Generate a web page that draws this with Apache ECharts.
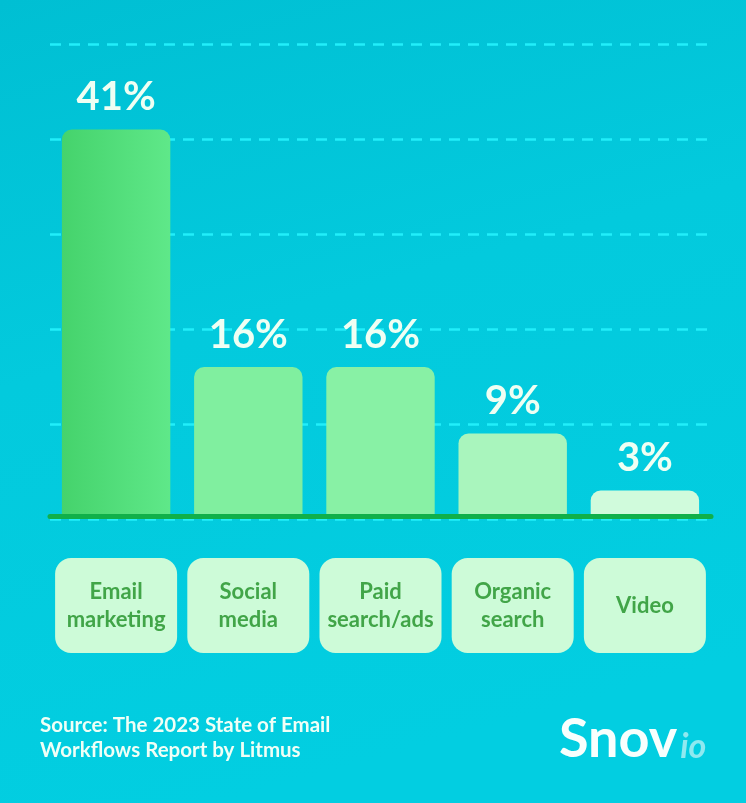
<!DOCTYPE html>
<html>
<head>
<meta charset="utf-8">
<script src="https://cdn.jsdelivr.net/npm/echarts@6/dist/echarts.min.js"></script>
<style>
html,body{margin:0;padding:0;background:#02c8db;}
#chart{width:746px;height:803px;}
</style>
</head>
<body>
<div id="chart"></div>
<script>
const categories = ['Email\nmarketing', 'Social\nmedia', 'Paid\nsearch/ads', 'Organic\nsearch', 'Video'];
const values = [41, 16, 16, 9, 3];
const barColors = ['#55e07d', '#80ef9f', '#88f1a5', '#a9f5bd', '#d0fbdc'];
const yTicks = [0, 10, 20, 30, 40, 50];
const sourceLines = ['Source: The 2023 State of Email', 'Workflows Report by Litmus'];

const FONT = 'Lato, "Open Sans", sans-serif';
const BOX_H = 95, LINE_H = 28;

const chart = echarts.init(document.getElementById('chart'));
chart.setOption({
  backgroundColor: {
    type: 'linear', x: 0, y: 0, x2: 0.3, y2: 1,
    colorStops: [{offset: 0, color: '#00bfd3'}, {offset: 0.45, color: '#03cadd'}, {offset: 1, color: '#02cee1'}]
  },
  animation: false,
  grid: {left: 50, right: 35, top: 44, bottom: 284, containLabel: false},
  xAxis: {
    type: 'category',
    z: 10,
    offset: -3,
    data: categories.map(c => {
      const n = c.split('\n').length;
      const pad = (BOX_H - n * LINE_H) / 2;
      return {value: c, textStyle: {padding: [pad, 0, pad, 0]}};
    }),
    axisTick: {show: false},
    axisLine: {show: true, lineStyle: {color: '#10b04a', width: 5, cap: 'round'}},
    axisLabel: {
      interval: 0,
      margin: 42,
      color: '#41a548',
      fontFamily: FONT,
      fontWeight: 'bold',
      fontSize: 22,
      lineHeight: LINE_H,
      backgroundColor: '#cdfbd8',
      borderRadius: 16,
      width: 122,
      align: 'center'
    }
  },
  yAxis: {
    type: 'value',
    min: yTicks[0], max: yTicks[yTicks.length - 1], interval: 10,
    axisLabel: {show: false},
    axisLine: {show: false},
    axisTick: {show: false},
    splitLine: {show: true, lineStyle: {color: '#22eefa', width: 2.5, type: [11, 8]}}
  },
  series: [{
    type: 'bar',
    data: values.map((v, i) => ({
      value: v,
      itemStyle: {
        color: i === 0 ? {type: 'linear', x: 0, y: 0, x2: 1, y2: 0,
          colorStops: [{offset: 0, color: '#45d36c'}, {offset: 1, color: '#5fe889'}]} : barColors[i]
      }
    })),
    barCategoryGap: '18%',
    itemStyle: {borderRadius: [10, 10, 0, 0]},
    label: {
      show: true, position: 'top', distance: 12,
      formatter: '{c}%',
      color: '#effff3', fontFamily: FONT, fontWeight: 'bold', fontSize: 40
    }
  }],
  graphic: [
    {
      type: 'text', left: 40, top: 713,
      style: {text: sourceLines.join('\n'), fill: '#f0fff6', font: 'bold 20.5px ' + FONT, lineHeight: 25}
    },
    {
      type: 'text', left: 559, top: 713,
      style: {
        text: '{a|Snov}{b|io}',
        rich: {
          a: {fill: '#f8fffd', font: 'bold 54px ' + FONT, verticalAlign: 'bottom'},
          b: {fill: '#8fe9f0', font: 'italic bold 34px ' + FONT, verticalAlign: 'bottom', padding: [0, 0, 3, 3]}
        }
      }
    }
  ]
});
</script>
</body>
</html>
